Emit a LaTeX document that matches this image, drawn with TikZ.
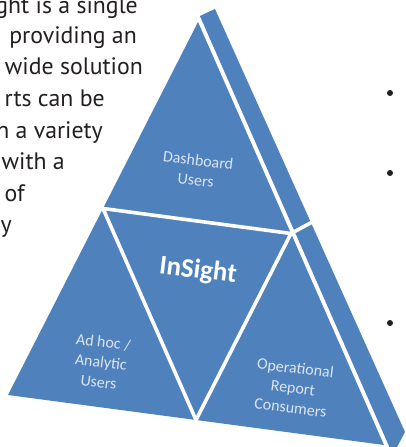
\documentclass[tikz,border=0pt]{standalone}
\usepackage{fontspec}
\setmainfont{PT Sans}
\newfontfamily\labelfont{Carlito}
\definecolor{faceblue}{HTML}{4F81BD}
\definecolor{labeltext}{HTML}{DCE4F0}
\definecolor{inkdark}{HTML}{231F20}
\begin{document}
\begin{tikzpicture}[x=1pt,y=-1pt,
  face/.style={fill=faceblue,draw=none},
  gapline/.style={draw=white,line width=3.6pt,line cap=round},
  facelabel/.style={font=\labelfont\fontsize{16}{20}\selectfont,text=labeltext,align=center,rotate=-7,inner sep=0pt},
  bodytext/.style={font=\fontsize{23.8}{28}\selectfont,text=inkdark,anchor=base east,inner sep=0pt},
  bulletdot/.style={circle,fill=inkdark,inner sep=0pt,minimum size=6pt}]
\useasboundingbox (0,0) rectangle (405,447);
\clip (0,0) rectangle (405,447);
% left paragraph (cut off)
\node[bodytext] (l1) at (138,13) {ght is a single};
\node[bodytext] (l2) at (137,43.5) {providing an};
\node[bodytext] (l3) at (143,74.5) {wide solution};
\node[bodytext] (l4) at (105,106) {rts can be};
\node[bodytext] (l5) at (103,138) {n a variety};
\node[bodytext] (l6) at (65,169.5) {with a};
\node[bodytext] (l7) at (25,201) {of};
\node[bodytext] (l8) at (12,232.5) {y};
% bullets
\node[bulletdot] (b1) at (390,93) {};
\node[bulletdot] (b2) at (390,173) {};
\node[bulletdot] (b3) at (390,323) {};
% side strip (right face)
\coordinate (S1) at (199.9,16);
\coordinate (S2) at (215,9);
\coordinate (S3) at (405,432);
\coordinate (S4) at (396,449);
\coordinate (S5) at (390.3,449);
\fill[faceblue] (S1) -- (S2) -- (S3) -- (S4) -- (S5) -- cycle;
% front face
\coordinate (A) at (198,22);
\coordinate (B) at (8,395);
\coordinate (C) at (384,445);
\fill[faceblue] (A) -- (B) -- (C) -- cycle;
\coordinate (M1) at (103,208.5);
\coordinate (M2) at (291,233.5);
\coordinate (M3) at (196,420);
\coordinate (E) at (316,220);
\draw[gapline] (M1) -- (M2) -- (M3) -- cycle;
\draw[gapline] (M2) -- (E);
% labels
\node[facelabel] (dash) at (197,170) {Dashboard\\Users};
\node[facelabel,font=\labelfont\bfseries\fontsize{27}{30}\selectfont,text=white] (ins) at (198,271) {InSight};
\node[facelabel] (adhoc) at (101,362) {Ad hoc /\\Analytic\\Users};
\node[facelabel] (oper) at (293,388) {Operational\\Report\\Consumers};
\end{tikzpicture}
\end{document}
